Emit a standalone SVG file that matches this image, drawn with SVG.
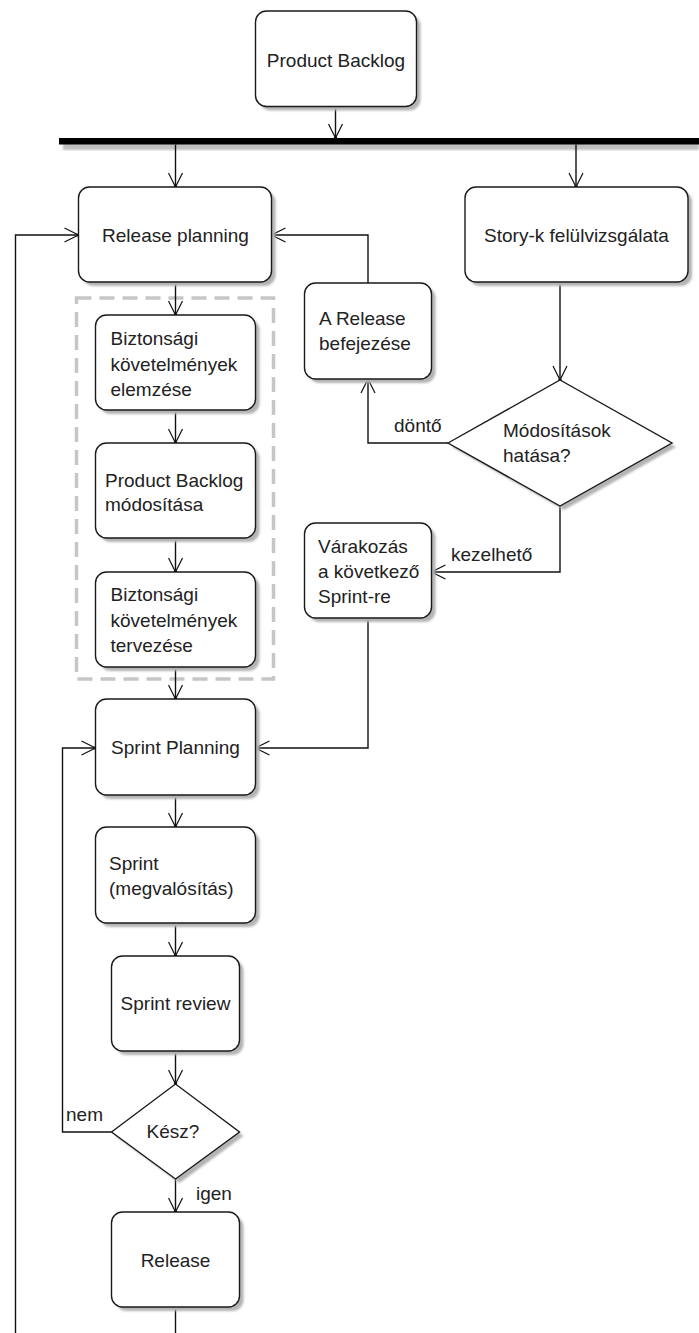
<svg xmlns="http://www.w3.org/2000/svg" width="699" height="1333" viewBox="0 0 699 1333">
<style>
.bg{fill:#ffffff}
.box{fill:#ffffff;stroke:#1a1a1a;stroke-width:1.4}
.sh{fill:#b4b4b4;stroke:none;filter:url(#blur)}
.t{font-family:"Liberation Sans",Arial,sans-serif;font-size:19px;fill:#222222}
.c{text-anchor:middle}
.ln{fill:none;stroke:#111111;stroke-width:1.4;marker-end:url(#arr)}
.lnn{fill:none;stroke:#111111;stroke-width:1.4}
.dash{fill:none;stroke:#c6c6c6;stroke-width:3.5;stroke-dasharray:15 8}
</style>
<defs>
<filter id="blur" x="-10%" y="-10%" width="120%" height="120%"><feGaussianBlur stdDeviation="1"/></filter>
<marker id="arr" viewBox="0 0 16 16" refX="15" refY="8" markerWidth="16" markerHeight="16" markerUnits="userSpaceOnUse" orient="auto">
<path d="M1,1 L15,8 L1,15" fill="none" stroke="#111111" stroke-width="1.2"/>
<circle cx="14.5" cy="8" r="1.6" fill="#111111"/>
</marker>
</defs>
<rect class="bg" x="0" y="0" width="699" height="1333"/>

<g id="fork-bar">
<rect x="63" y="143" width="636" height="7" fill="#c0c0c0" filter="url(#blur)"/>
<rect x="59" y="138" width="640" height="6.5" fill="#000000"/>
</g>

<g id="group-security">
<rect class="dash" x="76.5" y="298" width="197" height="381"/>
</g>

<g id="connectors">
<path class="ln" d="M335.5,106.5 V138"/>
<path class="ln" d="M175.5,144.5 V187"/>
<path class="ln" d="M576,144.5 V187"/>
<path class="ln" d="M175.5,282 V315"/>
<path class="ln" d="M175.5,410 V443"/>
<path class="ln" d="M175.5,538 V572"/>
<path class="ln" d="M175.5,667 V699"/>
<path class="ln" d="M175.5,795 V827"/>
<path class="ln" d="M175.5,923 V956"/>
<path class="ln" d="M175.5,1051 V1084"/>
<path class="ln" d="M175.5,1179 V1212"/>
<path class="lnn" d="M175.5,1307 V1340"/>
<path class="ln" d="M15.5,1340 V235 H78.5"/>
<path class="ln" d="M111.5,1132 H62.5 V748 H95.5"/>
<path class="ln" d="M560,282 V380"/>
<path class="ln" d="M448,443 H368 V379"/>
<path class="ln" d="M368,283 V235 H271.5"/>
<path class="ln" d="M560,506 V572 H431.5"/>
<path class="ln" d="M368,618 V748 H255.5"/>
<text class="t" x="394" y="432">döntő</text>
<text class="t" x="451" y="561">kezelhető</text>
<text class="t" x="66" y="1121">nem</text>
<text class="t" x="196" y="1200">igen</text>
</g>

<g id="product-backlog">
<rect class="sh" x="259.5" y="15" width="161" height="95.5" rx="11"/>
<rect class="box" x="255.5" y="11" width="161" height="95.5" rx="11"/>
<text class="t c" x="336" y="67">Product Backlog</text>
</g>

<g id="release-planning">
<rect class="sh" x="82.5" y="191" width="193" height="95" rx="11"/>
<rect class="box" x="78.5" y="187" width="193" height="95" rx="11"/>
<text class="t c" x="175.5" y="242">Release planning</text>
</g>

<g id="story-review">
<rect class="sh" x="469" y="191" width="223" height="95" rx="11"/>
<rect class="box" x="465" y="187" width="223" height="95" rx="11"/>
<text class="t c" x="576.5" y="242">Story-k felülvizsgálata</text>
</g>

<g id="release-end">
<rect class="sh" x="308.5" y="287" width="127" height="96" rx="11"/>
<rect class="box" x="304.5" y="283" width="127" height="96" rx="11"/>
<text class="t" x="319" y="325">A Release</text>
<text class="t" x="319" y="350">befejezése</text>
</g>

<g id="security-analysis">
<rect class="sh" x="99.5" y="319" width="160" height="95" rx="11"/>
<rect class="box" x="95.5" y="315" width="160" height="95" rx="11"/>
<text class="t" x="110.5" y="345">Biztonsági</text>
<text class="t" x="110.5" y="370.5">követelmények</text>
<text class="t" x="110.5" y="395.5">elemzése</text>
</g>

<g id="backlog-modify">
<rect class="sh" x="99.5" y="447" width="160" height="95" rx="11"/>
<rect class="box" x="95.5" y="443" width="160" height="95" rx="11"/>
<text class="t" x="105" y="487">Product Backlog</text>
<text class="t" x="105" y="511">módosítása</text>
</g>

<g id="changes-decision">
<polygon class="sh" points="452,447 564,384 676,447 564,510"/>
<polygon class="box" points="448,443 560,380 672,443 560,506"/>
<text class="t" x="503" y="437">Módosítások</text>
<text class="t" x="503" y="462">hatása?</text>
</g>

<g id="wait-next-sprint">
<rect class="sh" x="308.5" y="527" width="127" height="95" rx="11"/>
<rect class="box" x="304.5" y="523" width="127" height="95" rx="11"/>
<text class="t" x="318" y="553">Várakozás</text>
<text class="t" x="318" y="578">a következő</text>
<text class="t" x="318" y="603">Sprint-re</text>
</g>

<g id="security-design">
<rect class="sh" x="99.5" y="576" width="160" height="95" rx="11"/>
<rect class="box" x="95.5" y="572" width="160" height="95" rx="11"/>
<text class="t" x="110.5" y="601">Biztonsági</text>
<text class="t" x="110.5" y="626.5">követelmények</text>
<text class="t" x="110.5" y="652">tervezése</text>
</g>

<g id="sprint-planning">
<rect class="sh" x="99.5" y="703" width="160" height="96" rx="11"/>
<rect class="box" x="95.5" y="699" width="160" height="96" rx="11"/>
<text class="t c" x="175.5" y="754">Sprint Planning</text>
</g>

<g id="sprint">
<rect class="sh" x="99.5" y="831" width="160" height="96" rx="11"/>
<rect class="box" x="95.5" y="827" width="160" height="96" rx="11"/>
<text class="t" x="109" y="870">Sprint</text>
<text class="t" x="109" y="895">(megvalósítás)</text>
</g>

<g id="sprint-review">
<rect class="sh" x="115.5" y="960" width="128" height="95" rx="11"/>
<rect class="box" x="111.5" y="956" width="128" height="95" rx="11"/>
<text class="t c" x="175.5" y="1010">Sprint review</text>
</g>

<g id="done-decision">
<polygon class="sh" points="115.5,1136 179.5,1088 243.5,1136 179.5,1183"/>
<polygon class="box" points="111.5,1132 175.5,1084 239.5,1132 175.5,1179"/>
<text class="t c" x="173" y="1138">Kész?</text>
</g>

<g id="release">
<rect class="sh" x="115.5" y="1216" width="128" height="95" rx="11"/>
<rect class="box" x="111.5" y="1212" width="128" height="95" rx="11"/>
<text class="t c" x="175.5" y="1267">Release</text>
</g>
</svg>
